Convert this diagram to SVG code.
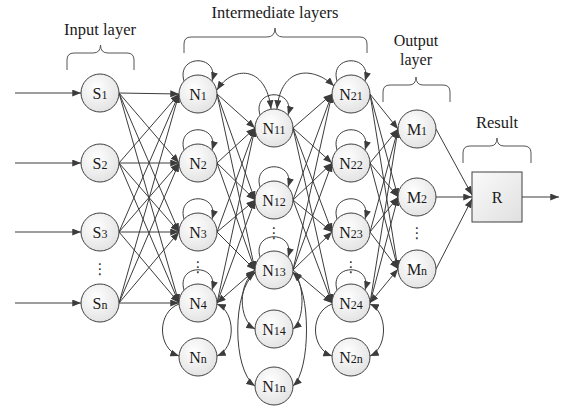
<svg xmlns="http://www.w3.org/2000/svg" width="561" height="408" viewBox="0 0 561 408">
  <defs>
    <radialGradient id="nodeFill" cx="40%" cy="35%" r="70%">
      <stop offset="0" stop-color="#ffffff"/>
      <stop offset="1" stop-color="#e2e2e2"/>
    </radialGradient>
    <linearGradient id="boxFill" x1="0" y1="0" x2="1" y2="1">
      <stop offset="0" stop-color="#fafafa"/>
      <stop offset="1" stop-color="#e0e0e0"/>
    </linearGradient>
    <marker id="ah" viewBox="0 0 10 8" refX="10" refY="4" markerWidth="9" markerHeight="7" markerUnits="userSpaceOnUse" orient="auto-start-reverse">
      <path d="M0,0 L10,4 L0,8 z" fill="#3c3c3c"/>
    </marker>
  </defs>
  <style>
    .node circle { fill: url(#nodeFill); stroke: #404040; stroke-width: 1; }
    .box { fill: url(#boxFill); stroke: #404040; stroke-width: 1; }
    .lbl { font-family: "Liberation Serif", "Times New Roman", serif; font-size: 16px; fill: #1a1a1a; text-anchor: middle; }
    .sub { font-size: 12px; }
    .head { font-family: "Liberation Serif", "Times New Roman", serif; font-size: 16.5px; fill: #1a1a1a; text-anchor: middle; }
    .head2 { font-size: 16px; }
    .dots { font-family: "DejaVu Sans", sans-serif; font-size: 15px; fill: #333; text-anchor: middle; }
    .brace { fill: none; stroke: #555; stroke-width: 1; }
    #connectors line, #connectors path { fill: none; stroke: #3c3c3c; stroke-width: 1; marker-end: url(#ah); }
    #connectors .both { marker-start: url(#ah); }
  </style>

  <!-- layer captions and braces -->
  <g id="captions">
    <text class="head" x="100" y="35">Input layer</text>
    <text class="head" x="275" y="18">Intermediate layers</text>
    <text class="head head2" x="416" y="46">Output</text>
    <text class="head head2" x="416" y="65">layer</text>
    <text class="head" x="497" y="128">Result</text>
    <path class="brace" d="M67,70 L67,60 Q67,53 74,53 L93,53 Q100.5,53 100.5,45 Q100.5,53 108,53 L127,53 Q134,53 134,60 L134,70"/>
    <path class="brace" d="M184,53 L184,44 Q184,37 191,37 L267,37 Q275,37 275,28 Q275,37 283,37 L360,37 Q367,37 367,44 L367,53"/>
    <path class="brace" d="M383,102 L383,92 Q383,85 390,85 L409,85 Q416,85 416,77 Q416,85 423,85 L443,85 Q450,85 450,92 L450,102"/>
    <path class="brace" d="M463,163 L463,153 Q463,146 470,146 L490,146 Q497,146 497,138 Q497,146 504,146 L524,146 Q531,146 531,153 L531,163"/>
  </g>

  <g id="connectors">
    <!-- inputs -->
    <line x1="15" y1="93" x2="81" y2="93"/>
    <line x1="15" y1="163" x2="81" y2="163"/>
    <line x1="15" y1="232" x2="81" y2="232"/>
    <line x1="15" y1="303" x2="81" y2="303"/>
    <!-- input layer to first intermediate column -->
    <line x1="119" y1="93" x2="179" y2="94"/>
    <line x1="119" y1="93" x2="179" y2="163"/>
    <line x1="119" y1="93" x2="179" y2="232"/>
    <line x1="119" y1="93" x2="179" y2="303"/>
    <line x1="119" y1="163" x2="179" y2="94"/>
    <line x1="119" y1="163" x2="179" y2="163"/>
    <line x1="119" y1="163" x2="179" y2="232"/>
    <line x1="119" y1="163" x2="179" y2="303"/>
    <line x1="119" y1="232" x2="179" y2="94"/>
    <line x1="119" y1="232" x2="179" y2="163"/>
    <line x1="119" y1="232" x2="179" y2="232"/>
    <line x1="119" y1="232" x2="179" y2="303"/>
    <line x1="119" y1="303" x2="179" y2="94"/>
    <line x1="119" y1="303" x2="179" y2="163"/>
    <line x1="119" y1="303" x2="179" y2="232"/>
    <line x1="119" y1="303" x2="179" y2="303"/>
    <!-- first column to second column -->
    <line x1="217" y1="94" x2="255" y2="128"/>
    <line x1="217" y1="94" x2="255" y2="200"/>
    <line x1="217" y1="94" x2="255" y2="270"/>
    <line x1="217" y1="163" x2="255" y2="128"/>
    <line x1="217" y1="163" x2="255" y2="200"/>
    <line x1="217" y1="163" x2="255" y2="270"/>
    <line x1="217" y1="232" x2="255" y2="128"/>
    <line x1="217" y1="232" x2="255" y2="200"/>
    <line x1="217" y1="232" x2="255" y2="270"/>
    <line x1="217" y1="303" x2="255" y2="128"/>
    <line x1="217" y1="303" x2="255" y2="200"/>
    <line class="both" x1="217" y1="303" x2="255" y2="270"/>
    <!-- second column to third column -->
    <line x1="293" y1="128" x2="332" y2="94"/>
    <line x1="293" y1="128" x2="332" y2="163"/>
    <line x1="293" y1="128" x2="332" y2="232"/>
    <line x1="293" y1="128" x2="332" y2="303"/>
    <line x1="293" y1="200" x2="332" y2="94"/>
    <line x1="293" y1="200" x2="332" y2="163"/>
    <line x1="293" y1="200" x2="332" y2="232"/>
    <line x1="293" y1="200" x2="332" y2="303"/>
    <line x1="293" y1="270" x2="332" y2="94"/>
    <line x1="293" y1="270" x2="332" y2="163"/>
    <line x1="293" y1="270" x2="332" y2="232"/>
    <line x1="293" y1="270" x2="332" y2="303"/>
    <!-- third column to output layer -->
    <line x1="370" y1="94" x2="398" y2="129"/>
    <line x1="370" y1="94" x2="398" y2="197"/>
    <line x1="370" y1="94" x2="398" y2="269"/>
    <line x1="370" y1="163" x2="398" y2="129"/>
    <line x1="370" y1="163" x2="398" y2="197"/>
    <line x1="370" y1="163" x2="398" y2="269"/>
    <line x1="370" y1="232" x2="398" y2="129"/>
    <line x1="370" y1="232" x2="398" y2="197"/>
    <line x1="370" y1="232" x2="398" y2="269"/>
    <line x1="370" y1="303" x2="398" y2="129"/>
    <line x1="370" y1="303" x2="398" y2="197"/>
    <line class="both" x1="370" y1="303" x2="398" y2="269"/>
    <!-- output layer to result -->
    <line x1="436" y1="129" x2="472" y2="195"/>
    <line x1="436" y1="197" x2="472" y2="197"/>
    <line x1="436" y1="269" x2="472" y2="199"/>
    <line x1="522" y1="197" x2="559" y2="197"/>
    <!-- self loops -->
    <path d="M184,81 C176,54 220,54 212,81"/>
    <path d="M184,150 C176,123 220,123 212,150"/>
    <path d="M184,219 C176,192 220,192 212,219"/>
    <path d="M184,290 C176,263 220,263 212,290"/>
    <path d="M260,115 C252,88 296,88 288,115"/>
    <path d="M260,187 C252,160 296,160 288,187"/>
    <path d="M260,257 C252,230 296,230 288,257"/>
    <path d="M337,81 C329,54 373,54 365,81"/>
    <path d="M337,150 C329,123 373,123 365,150"/>
    <path d="M337,219 C329,192 373,192 365,219"/>
    <path d="M337,290 C329,263 373,263 365,290"/>
    <!-- curved links between neighbours -->
    <path class="both" d="M217,90 C232,66 266,64 271,109"/>
    <path class="both" d="M277,109 C281,66 313,66 334,86"/>
    <path d="M179,304 C157,312 157,348 179,356"/>
    <path class="both" d="M217,304 C236,312 236,348 217,356"/>
    <path class="both" d="M255,272 C238,282 238,320 255,329"/>
    <path class="both" d="M255,273 C232,290 232,370 255,386"/>
    <path class="both" d="M293,272 C305,282 305,320 293,329"/>
    <path class="both" d="M293,273 C311,290 311,370 293,386"/>
    <path d="M332,304 C310,312 310,348 332,356"/>
    <path class="both" d="M370,304 C388,312 388,348 370,356"/>
  </g>

  <!-- input layer -->
  <g id="S1" class="node"><circle cx="100" cy="93" r="19"/><text class="lbl" x="100" y="98.5">S<tspan class="sub">1</tspan></text></g>
  <g id="S2" class="node"><circle cx="100" cy="163" r="19"/><text class="lbl" x="100" y="168.5">S<tspan class="sub">2</tspan></text></g>
  <g id="S3" class="node"><circle cx="100" cy="232" r="19"/><text class="lbl" x="100" y="237.5">S<tspan class="sub">3</tspan></text></g>
  <g id="Sn" class="node"><circle cx="100" cy="303" r="19"/><text class="lbl" x="100" y="308.5">S<tspan class="sub">n</tspan></text></g>

  <!-- first intermediate column -->
  <g id="N1" class="node"><circle cx="198" cy="94" r="19"/><text class="lbl" x="198" y="99.5">N<tspan class="sub">1</tspan></text></g>
  <g id="N2" class="node"><circle cx="198" cy="163" r="19"/><text class="lbl" x="198" y="168.5">N<tspan class="sub">2</tspan></text></g>
  <g id="N3" class="node"><circle cx="198" cy="232" r="19"/><text class="lbl" x="198" y="237.5">N<tspan class="sub">3</tspan></text></g>
  <g id="N4" class="node"><circle cx="198" cy="303" r="19"/><text class="lbl" x="198" y="308.5">N<tspan class="sub">4</tspan></text></g>
  <g id="Nn" class="node"><circle cx="198" cy="357" r="19"/><text class="lbl" x="198" y="362.5">N<tspan class="sub">n</tspan></text></g>

  <!-- second intermediate column -->
  <g id="N11" class="node"><circle cx="274" cy="128" r="19"/><text class="lbl" x="274" y="133.5">N<tspan class="sub">11</tspan></text></g>
  <g id="N12" class="node"><circle cx="274" cy="200" r="19"/><text class="lbl" x="274" y="205.5">N<tspan class="sub">12</tspan></text></g>
  <g id="N13" class="node"><circle cx="274" cy="270" r="19"/><text class="lbl" x="274" y="275.5">N<tspan class="sub">13</tspan></text></g>
  <g id="N14" class="node"><circle cx="274" cy="329" r="19"/><text class="lbl" x="274" y="334.5">N<tspan class="sub">14</tspan></text></g>
  <g id="N1n" class="node"><circle cx="274" cy="386" r="19"/><text class="lbl" x="274" y="391.5">N<tspan class="sub">1n</tspan></text></g>

  <!-- third intermediate column -->
  <g id="N21" class="node"><circle cx="351" cy="94" r="19"/><text class="lbl" x="351" y="99.5">N<tspan class="sub">21</tspan></text></g>
  <g id="N22" class="node"><circle cx="351" cy="163" r="19"/><text class="lbl" x="351" y="168.5">N<tspan class="sub">22</tspan></text></g>
  <g id="N23" class="node"><circle cx="351" cy="232" r="19"/><text class="lbl" x="351" y="237.5">N<tspan class="sub">23</tspan></text></g>
  <g id="N24" class="node"><circle cx="351" cy="303" r="19"/><text class="lbl" x="351" y="308.5">N<tspan class="sub">24</tspan></text></g>
  <g id="N2n" class="node"><circle cx="351" cy="357" r="19"/><text class="lbl" x="351" y="362.5">N<tspan class="sub">2n</tspan></text></g>

  <!-- output layer -->
  <g id="M1" class="node"><circle cx="417" cy="129" r="19"/><text class="lbl" x="417" y="134.5">M<tspan class="sub">1</tspan></text></g>
  <g id="M2" class="node"><circle cx="417" cy="197" r="19"/><text class="lbl" x="417" y="202.5">M<tspan class="sub">2</tspan></text></g>
  <g id="Mn" class="node"><circle cx="417" cy="269" r="19"/><text class="lbl" x="417" y="274.5">M<tspan class="sub">n</tspan></text></g>

  <!-- result -->
  <g id="R">
    <rect class="box" x="472" y="172" width="50" height="50"/>
    <text class="lbl" x="497" y="202.5">R</text>
  </g>

  <!-- elided members -->
  <g id="ellipses">
    <text class="dots" x="100" y="274">⋮</text>
    <text class="dots" x="198" y="272">⋮</text>
    <text class="dots" x="274" y="238">⋮</text>
    <text class="dots" x="351" y="272">⋮</text>
    <text class="dots" x="417" y="238">⋮</text>
  </g>
</svg>
